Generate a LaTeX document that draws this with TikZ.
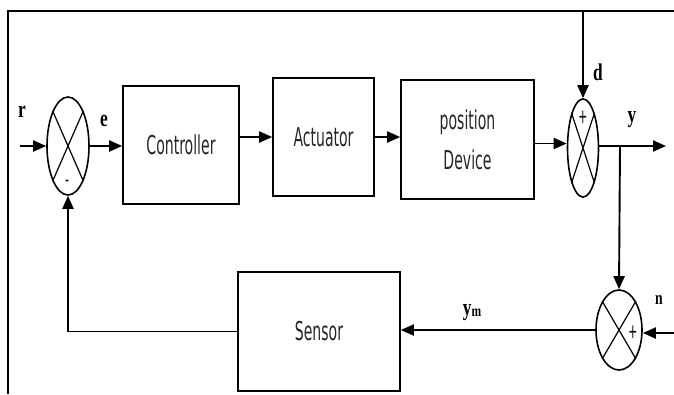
\documentclass[tikz,border=0pt]{standalone}
\usepackage{fontspec}
\usetikzlibrary{arrows.meta,shapes.geometric}
\newfontfamily\blockfont[FakeStretch=0.54]{DejaVu Sans}
\newfontfamily\sigfont[FakeStretch=0.72]{Liberation Serif}

\begin{document}
\begin{tikzpicture}[x=1pt, y=-1pt,
    block/.style={draw, line width=1.6pt, inner sep=0pt, text=black!85,
        font=\blockfont\fontsize{26}{40}\selectfont, align=center},
    summer/.style={draw, ellipse, line width=1.6pt, inner sep=0pt},
    signal/.style={line width=1.9pt, -{Triangle[length=13pt,width=11pt]}},
    siglabel/.style={font=\sigfont\bfseries\fontsize{24}{24}\selectfont},
    signlabel/.style={font=\blockfont\fontsize{20}{20}\selectfont}]
    \useasboundingbox (0,0) rectangle (674,394);
    \draw[line width=2.4pt] (674,11) -- (8,11) -- (8,394);

    \node[block, minimum width=116pt, minimum height=118pt] (ctrl) at (181,145) {Controller};
    \node[block, minimum width=101pt, minimum height=118pt] (act) at (323.5,137) {Actuator};
    \node[block, minimum width=133pt, minimum height=119pt] (dev) at (467.5,139.5) {position\\Device};
    \node[block, minimum width=162pt, minimum height=119pt] (sens) at (319,331.5) {Sensor};

    \node[summer, minimum width=42pt, minimum height=98pt] (s1) at (68,146) {};
    \node[summer, minimum width=31pt, minimum height=98pt] (s2) at (583,148) {};
    \node[summer, minimum width=46pt, minimum height=80pt] (s3) at (619,330) {};
    \foreach \s in {s1,s2,s3} {
        \draw[line width=1.2pt] (\s.north west) -- (\s.south east)
            (\s.north east) -- (\s.south west);
    }

    \coordinate (rin) at (20,146);
    \coordinate (dtop) at (583,11);
    \coordinate (br) at (620,146);
    \coordinate (yout) at (666,146);
    \coordinate (nin) at (674,333);

    \draw[signal] (rin) -- (s1.west);
    \draw[signal] (s1.east) -- (s1.east -| ctrl.west);
    \draw[signal] (ctrl.east |- act) -- (act.west);
    \draw[signal] (act.east) -- (act.east -| dev.west);
    \draw[signal] (dev.east) ++(0,4) coordinate (devout) -- (devout -| s2.west);
    \draw[signal] (dtop) -- (s2.north);
    \draw[signal] (s2.east |- br) -- (yout);
    \draw[signal] (br) -- (s3.north);
    \draw[signal] (nin) -- (nin -| s3.east);
    \draw[signal] (s3.west) -- (s3.west -| sens.east);
    \draw[signal] (sens.west) -| (s1.south);

    \node[siglabel] (lr) at (22,112) {r};
    \node[siglabel] (le) at (104,121) {e};
    \node[siglabel] (ld) at (598,72) {d};
    \node[siglabel] (ly) at (632,120) {y};
    \node[siglabel, font=\sigfont\bfseries\fontsize{19}{19}\selectfont] (ln) at (659,300) {n};
    \node[siglabel] (lym) at (472,313) {y\raisebox{-1pt}{\fontsize{16}{16}\selectfont m}};

    \node[signlabel] (m1) at (67,183) {-};
    \node[signlabel] (p2) at (583,117) {+};
    \node[signlabel] (p3) at (633,332) {+};
\end{tikzpicture}
\end{document}
